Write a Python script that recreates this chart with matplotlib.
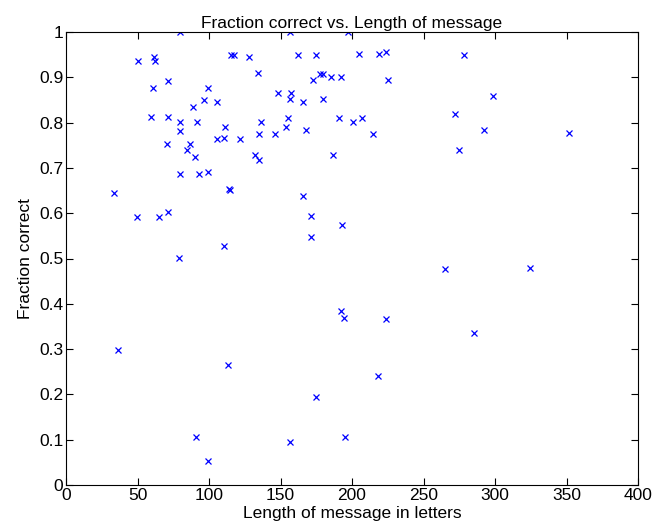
import matplotlib
matplotlib.use("Agg")
import matplotlib.pyplot as plt

lengths = [80, 50.3, 61.3, 62.5, 71.3, 60.6, 99.3, 96.5, 89, 59.4, 71.5, 80, 91.8, 80,
           70.6, 86.5, 84.4, 90, 80, 93, 99.3,
           156.4, 197.2, 115.2, 117.7, 128, 162, 174.8, 134.3, 177.6, 179.5, 173, 185,
           192.3, 105.6, 148.3, 157.3, 156.4, 165.7, 179.5, 155.5, 190.7, 111.2, 136.2,
           135.2, 146.4, 153.6, 167.6, 105.6, 110.3, 121.5, 132.4, 135.2, 186.9,
           33.6, 49.4, 65, 71.3, 79,
           114, 114.5, 165.7, 171.3, 193.2, 171.3, 110.3, 192.3, 194.4,
           36.6, 113.3, 90.9, 99.3, 156.4, 174.8, 195.1,
           274.6, 265.3, 324.2, 223.8, 285.5, 218.2,
           204.7, 219, 223.8, 278.3, 224.9, 298.6, 200.7, 207.2, 214.7, 271.8, 292.1,
           351.7]
fractions = [1.0, 0.936, 0.944, 0.937, 0.892, 0.877, 0.877, 0.85, 0.834, 0.813, 0.813, 0.801,
             0.801, 0.781, 0.752, 0.752, 0.740, 0.723, 0.687, 0.687, 0.692,
             1.0, 1.0, 0.950, 0.950, 0.944, 0.950, 0.950, 0.909, 0.907, 0.907, 0.895, 0.901,
             0.901, 0.845, 0.865, 0.865, 0.851, 0.845, 0.851, 0.810, 0.810, 0.790, 0.801,
             0.775, 0.775, 0.790, 0.784, 0.763, 0.766, 0.763, 0.729, 0.717, 0.729,
             0.644, 0.592, 0.592, 0.603, 0.501,
             0.653, 0.651, 0.638, 0.594, 0.574, 0.547, 0.528, 0.385, 0.368,
             0.297, 0.265, 0.105, 0.053, 0.096, 0.195, 0.105,
             0.740, 0.477, 0.480, 0.367, 0.335, 0.241,
             0.952, 0.952, 0.955, 0.949, 0.894, 0.859, 0.801, 0.810, 0.775, 0.818, 0.784,
             0.777]

xticks = [0, 50, 100, 150, 200, 250, 300, 350, 400]
yticks = [0, 0.1, 0.2, 0.3, 0.4, 0.5, 0.6, 0.7, 0.8, 0.9, 1]
yticklabels = ["0", "0.1", "0.2", "0.3", "0.4", "0.5", "0.6", "0.7", "0.8", "0.9", "1"]

plt.rcParams['font.family'] = ['Liberation Sans', 'DejaVu Sans']

fig = plt.figure(figsize=(6.54, 5.29), dpi=100)
ax = fig.add_axes([66/654, 44/529, 572/654, 453/529])
ax.plot(lengths, fractions, 'x', color='#0000ff', markersize=4.2, markeredgewidth=0.9)
ax.set_xlim(0, 400)
ax.set_ylim(0, 1)
ax.set_xticks(xticks)
ax.set_yticks(yticks)
ax.set_yticklabels(yticklabels)
ax.tick_params(direction='in', top=True, right=True, labelsize=12.5, length=5, width=0.8, pad=2)
for s in ax.spines.values():
    s.set_linewidth(0.8)
ax.set_title("Fraction correct vs. Length of message", fontsize=12.5, pad=3)
ax.set_xlabel("Length of message in letters", fontsize=12.5, labelpad=2)
ax.set_ylabel("Fraction correct", fontsize=12.5, labelpad=4)
fig.savefig("out.png", dpi=100)
